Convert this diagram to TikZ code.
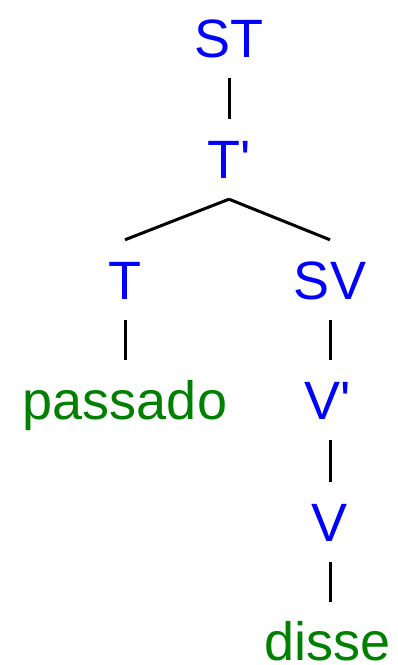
\documentclass[tikz,border=0pt]{standalone}
\usepackage{fontspec}
\setmainfont{Liberation Sans}
\definecolor{catblue}{RGB}{0,0,255}
\definecolor{wordgreen}{RGB}{0,128,0}
\begin{document}
\begin{tikzpicture}[x=1pt,y=1pt,
  lbl/.style={anchor=base,inner xsep=0pt,inner ysep=20pt,text height=40pt,text depth=0pt,
    font=\fontsize{54}{60}\selectfont},
  cat/.style={lbl,text=catblue},
  word/.style={lbl,text=wordgreen},
  edge/.style={draw=black,line width=3pt}]
\useasboundingbox (0,0) rectangle (398,665);
\node[cat]  (st) at (229,607) {ST};
\node[cat]  (tp) at (229,486) {T\textquotesingle};
\node[cat]  (t)  at (125,365) {T};
\node[cat]  (sv) at (330,365) {SV};
\node[word] (pa) at (125,245) {passado};
\node[cat]  (vp) at (328,245) {V\textquotesingle};
\node[cat]  (v)  at (330,123) {V};
\node[word,inner ysep=1pt,text height=38pt] (di) at (328,5) {disse};
\draw[edge] (st.south) -- (st.south |- tp.north);
\draw[edge] (tp.south) -- (t.north);
\draw[edge] (tp.south) -- (sv.north);
\draw[edge] (t.south) -- (pa.north);
\draw[edge] (sv.south) -- (sv.south |- vp.north);
\draw[edge] (sv.south |- vp.south) -- (v.north);
\draw[edge,shorten >=19pt] (v.south) -- (v.south |- di.north);
\end{tikzpicture}
\end{document}
